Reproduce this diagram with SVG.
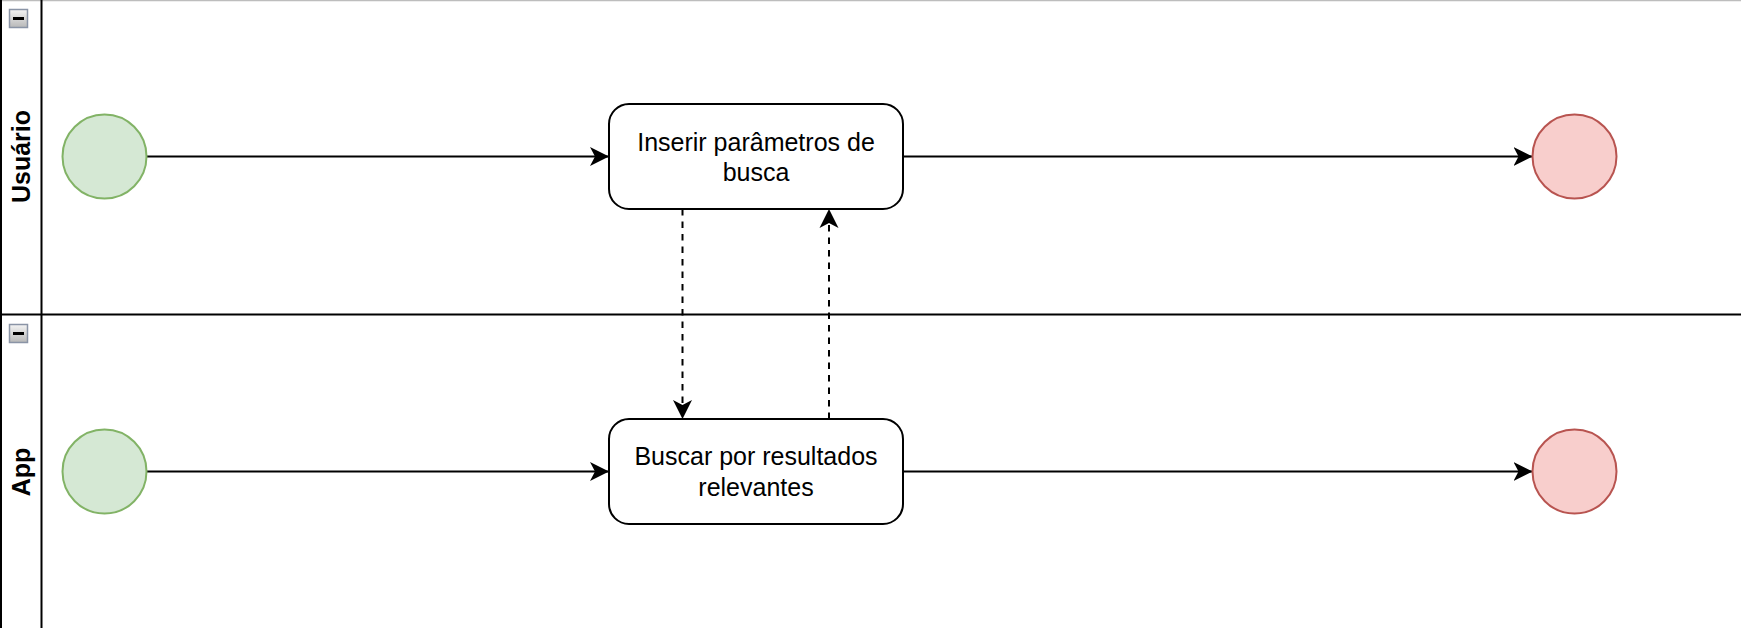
<svg xmlns="http://www.w3.org/2000/svg" width="1741" height="628" viewBox="0 0 1741 628">
<style>
.lane{fill:none;stroke:#000;stroke-width:2}
.hdr{font-family:"Liberation Sans",Arial,sans-serif;font-size:25px;font-weight:bold;fill:#000;text-anchor:middle}
.start{fill:#d5e8d4;stroke:#82b366;stroke-width:2}
.end{fill:#f8cecc;stroke:#b85450;stroke-width:2}
.task{fill:#fff;stroke:#000;stroke-width:2}
.lbl{font-family:"Liberation Sans",Arial,sans-serif;font-size:25px;fill:#000;text-anchor:middle}
.edge{fill:none;stroke:#000;stroke-width:2}
.dash{stroke-dasharray:6.5 6}
.tog{fill:url(#tg);stroke:#8a94a6;stroke-width:1.5}
</style>
<defs>
<linearGradient id="tg" x1="0" y1="0" x2="0" y2="1"><stop offset="0" stop-color="#f4f4f4"/><stop offset="1" stop-color="#b8b8b8"/></linearGradient>
<marker id="arr" markerUnits="userSpaceOnUse" markerWidth="20" markerHeight="20" viewBox="0 0 20 20" refX="19" refY="10" orient="auto">
<path d="M0,0.5 L19,10 L0,19.5 L5,10 Z" fill="#000"/>
</marker>
</defs>
<rect width="1741" height="628" fill="#fff"/>
<g id="lane-usuario">
<line x1="0" y1="0.5" x2="1741" y2="0.5" stroke="#bdbdbd" stroke-width="1.5"/>
<line class="lane" x1="1" y1="0" x2="1" y2="628"/>
<line class="lane" x1="41.5" y1="0" x2="41.5" y2="628"/>
<rect class="tog" x="9.5" y="9.5" width="18" height="18"/>
<rect x="13" y="17" width="11" height="3" fill="#000"/>
<text class="hdr" transform="translate(30,156.5) rotate(-90)">Usuário</text>
</g>
<g id="lane-app">
<line class="lane" x1="0" y1="314.5" x2="1741" y2="314.5"/>
<rect class="tog" x="9.5" y="324.5" width="18" height="18"/>
<rect x="13" y="332" width="11" height="3" fill="#000"/>
<text class="hdr" transform="translate(30,472) rotate(-90)">App</text>
</g>
<g id="connectors">
<line class="edge" x1="146.5" y1="156.5" x2="609" y2="156.5" marker-end="url(#arr)"/>
<line class="edge" x1="903" y1="156.5" x2="1532.5" y2="156.5" marker-end="url(#arr)"/>
<line class="edge" x1="146.5" y1="471.5" x2="609" y2="471.5" marker-end="url(#arr)"/>
<line class="edge" x1="903" y1="471.5" x2="1532.5" y2="471.5" marker-end="url(#arr)"/>
<line class="edge dash" x1="682.5" y1="209" x2="682.5" y2="419" marker-end="url(#arr)"/>
<line class="edge dash" x1="829" y1="419" x2="829" y2="209" marker-end="url(#arr)"/>
</g>
<g id="start-usuario"><circle class="start" cx="104.5" cy="156.5" r="42"/></g>
<g id="end-usuario"><circle class="end" cx="1574.5" cy="156.5" r="42"/></g>
<g id="start-app"><circle class="start" cx="104.5" cy="471.5" r="42"/></g>
<g id="end-app"><circle class="end" cx="1574.5" cy="471.5" r="42"/></g>
<g id="task-inserir">
<rect class="task" x="609" y="104" width="294" height="105" rx="20" ry="20"/>
<text class="lbl" x="756" y="151">Inserir parâmetros de</text>
<text class="lbl" x="756" y="181">busca</text>
</g>
<g id="task-buscar">
<rect class="task" x="609" y="419" width="294" height="105" rx="20" ry="20"/>
<text class="lbl" x="756" y="465">Buscar por resultados</text>
<text class="lbl" x="756" y="495.5">relevantes</text>
</g>
</svg>
